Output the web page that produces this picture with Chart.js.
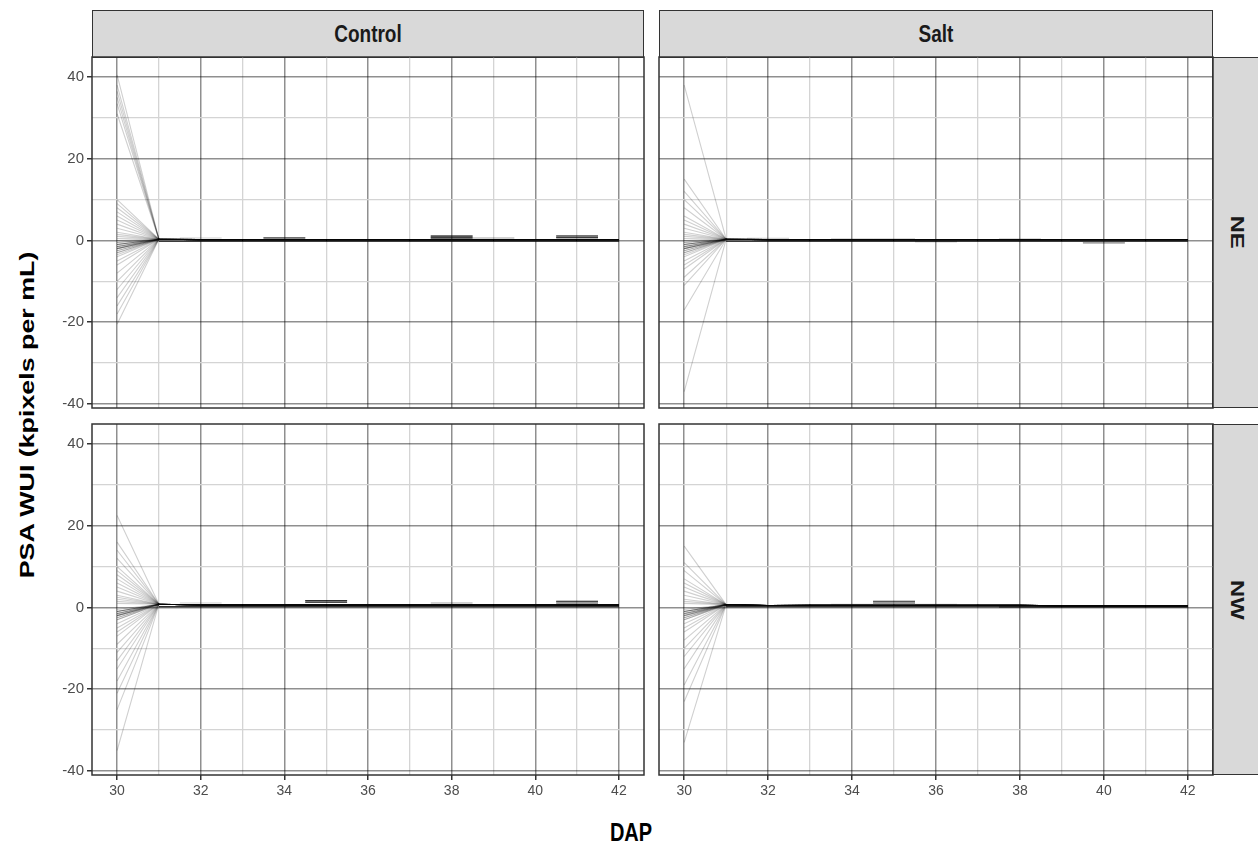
<!DOCTYPE html>
<html>
<head>
<meta charset="utf-8">
<script src="https://cdn.jsdelivr.net/npm/chart.js@4.4.1/dist/chart.umd.min.js"></script>
<style>
  body { margin: 0; background: #fff; font-family: "Liberation Sans", Arial, sans-serif; }
  #page { position: relative; width: 1258px; height: 849px; overflow: hidden; }
  .strip { position: absolute; box-sizing: border-box; background: #d9d9d9; border: 1.5px solid #333;
           color: #1a1a1a; font-weight: bold; font-size: 19px; display: flex; align-items: center; justify-content: center; }
  .strip span { display: inline-block; transform: scaleY(1.25); }
  .strip.side span { writing-mode: vertical-rl; }
  canvas { position: absolute; }
  .title { position: absolute; font-weight: bold; color: #000; font-size: 20px; white-space: nowrap; }
</style>
</head>
<body>
<div id="page">
  <div class="title" style="left:27px; top:415px; transform: translate(-50%, -50%) rotate(-90deg) scaleX(1.34);">PSA WUI (kpixels per mL)</div>
  <div class="title" style="left:631px; top:833px; transform: translate(-50%, -50%) scaleY(1.25);">DAP</div>
</div>
<script>
// DAP values and axis ticks
const dap = [30, 31, 32, 33, 34, 35, 36, 37, 38, 39, 40, 41, 42];
const xTickValues = [30, 31, 32, 33, 34, 35, 36, 37, 38, 39, 40, 41, 42];
const yTickValues = [-40, -30, -20, -10, 0, 10, 20, 30, 40];
const treatments = ['Control', 'Salt'];
const sides = ['NE', 'NW'];

// value of each plant at DAP 30
const controlNE_day30 = [40.5, 38, 36.5, 35, 33.5, 31, 10, 9, 8, 7, 6, 5, 4, 3, 2, 1.5, 1, 0.5, 0, -0.5, -0.5,
  -1, -1, -1, -1, -1.5, -1.5, -1.5, -2, -2, -2, -2, -2.5, -2.5, -3, -3, -3.5, -4, -5, -6, -8, -10, -12, -14, -16, -18, -20.5];
const saltNE_day30 = [38, 15, 12, 10, 8, 6, 5, 4, 3, 2, 1.5, 1, 0.5, 0, -0.5, -0.5, -1, -1, -1, -1, -1.5, -1.5,
  -1.5, -2, -2, -2, -2, -2.5, -2.5, -3, -3, -3.5, -4, -5, -6, -7, -9, -11, -17, -37];
const controlNW_day30 = [22.5, 16, 14, 12, 10, 9, 8, 7, 6, 5, 4, 3, 2.5, 2, 1.5, 1, -0.5, -1, -1, -1, -1, -1.5,
  -1.5, -1.5, -2, -2, -2, -2, -2.5, -2.5, -3, -3, -4, -5, -6, -7, -9, -11, -13, -15, -18, -21, -25, -35];
const saltNW_day30 = [15, 11, 9, 7, 6, 5, 4, 3, 2, 1.5, 1, -0.5, -1, -1, -1, -1, -1.5, -1.5, -1.5, -2, -2, -2,
  -2.5, -2.5, -3, -3, -4, -5, -6, -8, -10, -12, -15, -19, -23, -33];

// common level for DAP 31..42
const controlNE_later = [0.3, 0.2, 0.2, 0.2, 0.2, 0.2, 0.2, 0.2, 0.2, 0.2, 0.2, 0.2];
const saltNE_later = [0.3, 0.2, 0.2, 0.2, 0.2, 0.2, 0.2, 0.2, 0.2, 0.2, 0.2, 0.2];
const controlNW_later = [0.8, 0.6, 0.6, 0.6, 0.6, 0.6, 0.6, 0.6, 0.6, 0.6, 0.6, 0.6];
const saltNW_later = [0.7, 0.5, 0.5, 0.5, 0.5, 0.5, 0.5, 0.5, 0.4, 0.4, 0.4, 0.4];

// short runs off the common level: [from DAP, to DAP, value, number of plants]
const controlNE_bumps = [[31, 42, -0.2, 8], [31.5, 32.5, 0.6, 1], [33.5, 34.5, 0.7, 4], [33.5, 34.5, 0.4, 3],
  [37.5, 38.5, 1.1, 8], [37.5, 38.5, 0.8, 8], [37.5, 38.5, 0.5, 4], [38.5, 39.5, 0.6, 2],
  [40.5, 41.5, 1.1, 8], [40.5, 41.5, 0.7, 7]];
const saltNE_bumps = [[31, 42, -0.2, 8], [31.5, 32.5, 0.5, 1], [33.5, 34.5, 0.4, 1], [34.5, 35.5, 0.4, 1],
  [35.5, 36.5, -0.3, 2], [37.5, 38.5, 0.4, 1], [39.5, 40.5, -0.6, 3]];
const controlNW_bumps = [[31, 42, 0.2, 8], [31.5, 32.5, 1.1, 1], [34.5, 35.5, 1.7, 8], [34.5, 35.5, 1.3, 8],
  [37.5, 38.5, 1.1, 2], [40.5, 41.5, 1.5, 6], [40.5, 41.5, 1.1, 5]];
const saltNW_bumps = [[31, 42, 0.2, 8], [34.5, 35.5, 1.5, 5], [34.5, 35.5, 1.1, 5], [33.5, 34.5, 0.8, 1],
  [35.5, 36.5, 0.8, 1], [37.5, 42, 0.1, 5]];

const panelData = {
  'Control-NE': [controlNE_day30, controlNE_later, controlNE_bumps],
  'Salt-NE': [saltNE_day30, saltNE_later, saltNE_bumps],
  'Control-NW': [controlNW_day30, controlNW_later, controlNW_bumps],
  'Salt-NW': [saltNW_day30, saltNW_later, saltNW_bumps]
};

const lineColor = 'rgba(0,0,0,0.19)';
const colLeft = [92, 659];
const colWidth = [552, 554];
const rowTop = [57, 424];
const panelHeight = 351;

function plantLines(day30, later, bumps) {
  const sets = day30.map(v => ({ data: [v, ...later].map((y, i) => ({ x: dap[i], y: y })) }));
  bumps.forEach(([x0, x1, y, n]) => {
    for (let k = 0; k < n; k++) sets.push({ data: [{ x: x0, y: y }, { x: x1, y: y }] });
  });
  sets.forEach(s => Object.assign(s, { borderColor: lineColor, borderWidth: 1.1, pointRadius: 0, tension: 0, fill: false }));
  return sets;
}

const panelBorder = {
  id: 'panelBorder',
  afterDraw(chart) {
    const { ctx, chartArea: a } = chart;
    ctx.save();
    ctx.strokeStyle = '#333';
    ctx.lineWidth = 1.5;
    ctx.strokeRect(a.left, a.top, a.right - a.left, a.bottom - a.top);
    ctx.restore();
  }
};

const page = document.getElementById('page');

function addStrip(text, left, top, width, height, side) {
  const d = document.createElement('div');
  d.className = 'strip' + (side ? ' side' : '');
  Object.assign(d.style, { left: left + 'px', top: top + 'px', width: width + 'px', height: height + 'px' });
  d.innerHTML = '<span>' + text + '</span>';
  page.appendChild(d);
}

treatments.forEach((t, c) => addStrip(t, colLeft[c], 10, colWidth[c], 48, false));
sides.forEach((s, r) => addStrip(s, 1212, rowTop[r], 50, panelHeight, true));

const pad = 14;
const majorGrid = 'rgba(0,0,0,0.44)';
const minorGrid = '#d4d4d4';
sides.forEach((side, r) => {
  treatments.forEach((treat, c) => {
    const showY = c === 0, showX = r === 1;
    const yw = showY ? 60 : 0, xh = showX ? 30 : 0;
    const canvas = document.createElement('canvas');
    const w = colWidth[c] + 2 * pad + yw, h = panelHeight + 2 * pad + xh;
    canvas.width = w; canvas.height = h;
    Object.assign(canvas.style, { left: (colLeft[c] - pad - yw) + 'px', top: (rowTop[r] - pad) + 'px', width: w + 'px', height: h + 'px' });
    page.appendChild(canvas);

    const [day30, later, bumps] = panelData[treat + '-' + side];
    new Chart(canvas.getContext('2d'), {
      type: 'line',
      data: { datasets: plantLines(day30, later, bumps) },
      plugins: [panelBorder],
      options: {
        responsive: false,
        animation: false,
        layout: { padding: pad },
        plugins: { legend: { display: false }, tooltip: { enabled: false } },
        scales: {
          x: {
            type: 'linear', min: 29.4, max: 42.6,
            afterBuildTicks: s => { s.ticks = xTickValues.map(v => ({ value: v })); },
            afterFit: s => { s.height = xh; },
            border: { display: false },
            grid: {
              drawTicks: showX, tickLength: 5,
              color: ctx => ctx.tick && ctx.tick.value % 2 === 0 ? majorGrid : minorGrid,
              lineWidth: ctx => ctx.tick && ctx.tick.value % 2 === 0 ? 1.5 : 1.3,
              tickColor: ctx => ctx.tick && ctx.tick.value % 2 === 0 ? '#333' : 'rgba(0,0,0,0)'
            },
            ticks: {
              display: showX, autoSkip: false, maxRotation: 0, padding: 3,
              color: '#4d4d4d', font: { family: '"Liberation Sans", Arial, sans-serif', size: 14 },
              callback: v => v % 2 === 0 ? String(v) : ''
            }
          },
          y: {
            type: 'linear', min: -41, max: 44.9,
            afterBuildTicks: s => { s.ticks = yTickValues.map(v => ({ value: v })); },
            afterFit: s => { s.width = yw; },
            border: { display: false },
            grid: {
              drawTicks: showY, tickLength: 5,
              color: ctx => ctx.tick && ctx.tick.value % 20 === 0 ? majorGrid : minorGrid,
              lineWidth: ctx => ctx.tick && ctx.tick.value % 20 === 0 ? 1.5 : 1.3,
              tickColor: ctx => ctx.tick && ctx.tick.value % 20 === 0 ? '#333' : 'rgba(0,0,0,0)'
            },
            ticks: {
              display: showY, autoSkip: false, padding: 3,
              color: '#4d4d4d', font: { family: '"Liberation Sans", Arial, sans-serif', size: 15 },
              callback: v => v % 20 === 0 ? String(v) : ''
            }
          }
        }
      }
    });
  });
});
</script>
</body>
</html>
